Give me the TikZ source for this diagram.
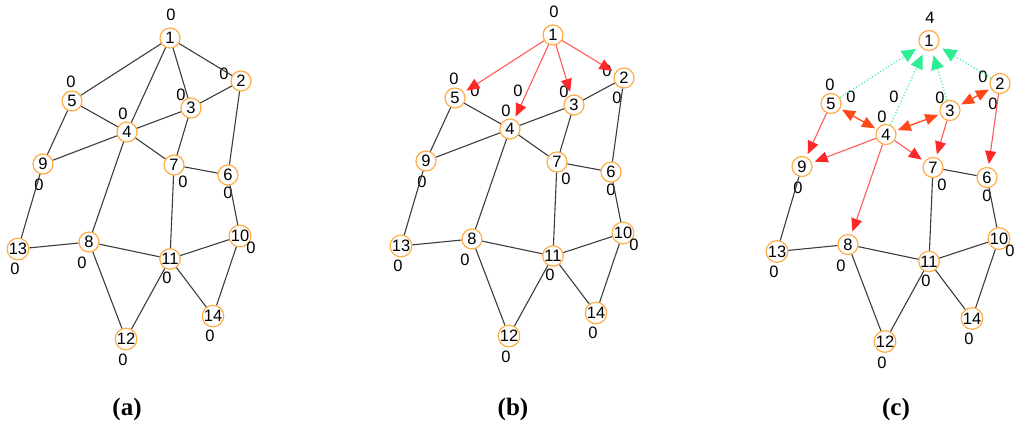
\documentclass[tikz,border=0pt]{standalone}
\usepackage{fontspec}
\setmainfont{Liberation Sans}
\newfontfamily\capfont{Liberation Serif}
\usetikzlibrary{arrows.meta}
\definecolor{nodeor}{RGB}{255,172,70}
\definecolor{edgegray}{RGB}{60,60,60}
\definecolor{redline}{RGB}{255,90,90}
\definecolor{redhead}{RGB}{255,40,40}
\definecolor{dblred}{RGB}{255,72,25}
\definecolor{greenl}{RGB}{70,240,160}
\definecolor{greenh}{RGB}{45,238,148}
\newcommand\mkpanel[4]{%
  \begin{scope}[shift={(#2,#3)}]
    \foreach \n/\x/\y in {1/170/38,2/241/81,3/191/108,4/127/132,5/72/101,6/228/175,7/174/165,8/89/242,9/43/164,10/240/236,11/170/259,12/126/339,13/18/249,14/213/316}
      \node[vx] (#1\n) at (\x,\y) {\n};
    \node[lab] (#1l1) at (171,15) {#4};
    \foreach \n/\x/\y in {2/224/74,3/181/95,4/123/114,5/71/82,6/228/193,7/183/182,8/82/263,9/39/185,10/251/248,11/167/278,12/123/360,13/15/269,14/210/336}
      \node[lab] (#1l\n) at (\x,\y) {0};
  \end{scope}}
\begin{document}
\begin{tikzpicture}[x=1pt,y=-1pt,
  vx/.style={circle,draw=nodeor,fill=white,line width=1.2pt,minimum size=20pt,inner sep=0pt,font=\fontsize{16.5}{16.5}\selectfont},
  lab/.style={font=\fontsize{16.5}{16.5}\selectfont,inner sep=0pt,text=black},
  edge/.style={draw=edgegray,line width=1.1pt},
  redarr/.style={draw=redline,line width=1.1pt,-{Triangle[length=13pt,width=11pt,color=redhead]},shorten >=3pt},
  dblarr/.style={draw=dblred,line width=1.3pt,{Triangle[length=13pt,width=11pt,color=dblred]}-{Triangle[length=13pt,width=11pt,color=dblred]},shorten >=2pt,shorten <=2pt},
  grnarr/.style={draw=greenl,line width=1.2pt,dotted,-{Triangle[length=14pt,width=13pt,color=greenh]},shorten >=5pt},
  captext/.style={font=\capfont\bfseries\fontsize{25}{25}\selectfont,inner sep=0pt}]
\useasboundingbox (0,0) rectangle (1024,431);
\mkpanel{a}{0}{0}{0}
\mkpanel{b}{383}{-3}{0}
\mkpanel{c}{759}{2.5}{4}
% extra labels in (b) and (c)
\begin{scope}[shift={(383,-3)}]
  \node[lab] (bx1) at (92,94) {0};
  \node[lab] (bx2) at (135,94) {0};
  \node[lab] (bx3) at (234,101) {0};
\end{scope}
\begin{scope}[shift={(759,2.5)}]
  \node[lab] (cx1) at (92,94) {0};
  \node[lab] (cx2) at (135,94) {0};
  \node[lab] (cx3) at (234,101) {0};
\end{scope}
% common black edges
\foreach \p in {a,b,c}{
  \foreach \u/\v in {7/6,7/11,9/13,6/10,13/8,8/11,8/12,11/10,11/12,11/14,10/14}
    \draw[edge] (\p\u) -- (\p\v);
}
% panel (a)
\foreach \u/\v in {1/5,1/4,1/3,1/2,2/3,2/6,5/4,5/9,3/4,3/7,4/9,4/7,4/8}
  \draw[edge] (a\u) -- (a\v);
% panel (b)
\foreach \u/\v in {2/3,2/6,5/4,5/9,3/4,3/7,4/9,4/7,4/8}
  \draw[edge] (b\u) -- (b\v);
\foreach \v in {5,4,3,2}
  \draw[redarr] (b1) -- (b\v);
% panel (c)
\foreach \u in {5,4,3,2}
  \draw[grnarr] (c\u) -- (c1);
\foreach \u/\v in {5/4,4/3,3/2}
  \draw[dblarr] (c\u) -- (c\v);
\foreach \u/\v in {5/9,4/9,4/7,4/8,3/7,2/6}
  \draw[redarr] (c\u) -- (c\v);
% captions
\node[captext] (capa) at (127,409) {(a)};
\node[captext] (capb) at (513,409) {(b)};
\node[captext] (capc) at (896,409) {(c)};
\end{tikzpicture}
\end{document}
